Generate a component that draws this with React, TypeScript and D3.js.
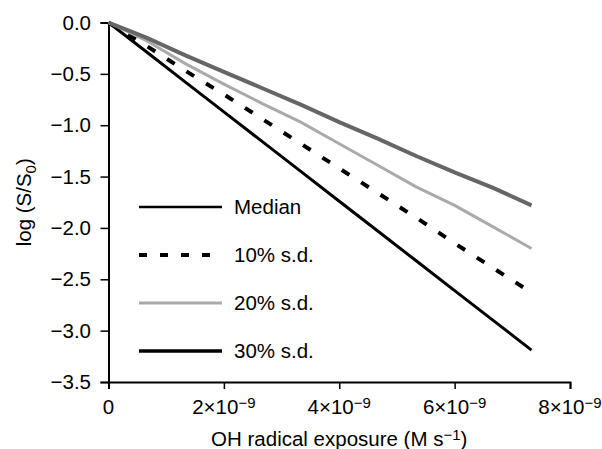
import React, { useRef, useEffect, useCallback } from 'react'
import * as d3 from 'd3'

// OH exposure (M s^-1) at each model step
const exposure = [0, 0.667e-9, 1.333e-9, 2.0e-9, 2.667e-9, 3.333e-9, 4.0e-9, 4.667e-9, 5.333e-9, 6.0e-9, 6.667e-9, 7.333e-9]

// log(S/S0) for each case
const median = [0, -0.15, -0.32, -0.48, -0.64, -0.80, -0.97, -1.13, -1.30, -1.46, -1.61, -1.78]
const sd10 = [0, -0.23, -0.47, -0.70, -0.94, -1.18, -1.42, -1.66, -1.90, -2.15, -2.39, -2.63]
const sd20 = [0, -0.18, -0.40, -0.60, -0.79, -0.97, -1.18, -1.39, -1.60, -1.78, -1.99, -2.20]
const sd30 = [0, -0.29, -0.58, -0.87, -1.16, -1.45, -1.74, -2.03, -2.32, -2.61, -2.90, -3.19]

const legendLabels = ['Median', '10% s.d.', '20% s.d.', '30% s.d.']
const xTicks = [0, 2e-9, 4e-9, 6e-9, 8e-9]
const yTicks = [0, -0.5, -1.0, -1.5, -2.0, -2.5, -3.0, -3.5]

const FONT = '"Liberation Sans", Arial, Helvetica, sans-serif'
const FS = 20.5
const SUP = 15

const App = () => {
    const chartRef = useRef<HTMLDivElement>(null)

    const drawChart = useCallback(() => {
        if (!chartRef.current) return
        const width = 602
        const height = 449
        const margin = { left: 108.5, right: 32, top: 22.5, bottom: 67 }

        const svg = d3.select(chartRef.current)
            .append('svg')
            .attr('width', width)
            .attr('height', height)
            .style('display', 'block')
            .style('font-family', FONT)

        const x = d3.scaleLinear()
            .domain([0, 8e-9])
            .range([margin.left, width - margin.right])
        const y = d3.scaleLinear()
            .domain([-3.5, 0])
            .range([height - margin.bottom, margin.top])

        // x axis
        const xAxis = svg.append('g')
            .attr('transform', `translate(0, ${y(-3.5)})`)
            .call(d3.axisBottom(x).tickValues(xTicks).tickSize(7).tickFormat(() => ''))
        xAxis.select('.domain').attr('stroke', '#000').attr('stroke-width', 2)
        xAxis.selectAll('.tick line').attr('stroke', '#000').attr('stroke-width', 1.5)

        xTicks.forEach(t => {
            const txt = svg.append('text')
                .attr('x', x(t))
                .attr('y', 414)
                .attr('text-anchor', 'middle')
                .attr('font-size', FS)
                .attr('fill', '#000')
            if (t === 0) {
                txt.text('0')
            } else {
                const m = Math.round(t / 1e-9)
                txt.append('tspan').text(`${m}\u00d710`)
                txt.append('tspan').attr('dy', -6).attr('font-size', SUP).text('\u22129')
            }
        })

        // y axis
        const yAxis = svg.append('g')
            .attr('transform', `translate(${x(0)}, 0)`)
            .call(d3.axisLeft(y).tickValues(yTicks).tickSize(8).tickFormat(() => ''))
        yAxis.select('.domain').attr('stroke', '#000').attr('stroke-width', 2)
        yAxis.selectAll('.tick line').attr('stroke', '#000').attr('stroke-width', 1.5)

        yTicks.forEach(t => {
            svg.append('text')
                .attr('x', 91)
                .attr('y', y(t))
                .attr('dy', '0.35em')
                .attr('text-anchor', 'end')
                .attr('font-size', FS)
                .attr('fill', '#000')
                .text(d3.format('.1f')(t).replace('-', '\u2212'))
        })

        // axis titles
        const xt = svg.append('text')
            .attr('x', (x(0) + x(8e-9)) / 2)
            .attr('y', 446)
            .attr('text-anchor', 'middle')
            .attr('font-size', FS)
        xt.append('tspan').text('OH radical exposure (M s')
        xt.append('tspan').attr('dy', -6).attr('font-size', SUP).text('\u22121')
        xt.append('tspan').attr('dy', 6).text(')')

        const yt = svg.append('text')
            .attr('transform', `translate(31, ${(y(0) + y(-3.5)) / 2}) rotate(-90)`)
            .attr('text-anchor', 'middle')
            .attr('font-size', FS)
        yt.append('tspan').text('log (S/S')
        yt.append('tspan').attr('dy', 5).attr('font-size', SUP).text('0')
        yt.append('tspan').attr('dy', -5).text(')')

        // series
        const series = [
            { values: sd30, color: '#000', width: 3, dash: null },
            { values: sd10, color: '#000', width: 4, dash: '9,14' },
            { values: sd20, color: '#aaa', width: 3, dash: null },
            { values: median, color: '#666', width: 4, dash: null },
        ]

        const line = d3.line<number>()
            .x((d, i) => x(exposure[i]))
            .y(d => y(d))

        series.forEach(s => {
            svg.append('path')
                .datum(s.values)
                .attr('fill', 'none')
                .attr('stroke', s.color)
                .attr('stroke-width', s.width)
                .attr('stroke-dasharray', s.dash)
                .attr('d', line)
        })

        // legend
        const legendStyles = [
            { color: '#000', width: 2.5, dash: null },
            { color: '#000', width: 4, dash: '8,13' },
            { color: '#aaa', width: 3, dash: null },
            { color: '#000', width: 3.5, dash: null },
        ]
        const legendY = [207, 255, 303, 351]

        legendLabels.forEach((label, i) => {
            const st = legendStyles[i]
            svg.append('line')
                .attr('x1', 139)
                .attr('x2', 222)
                .attr('y1', legendY[i])
                .attr('y2', legendY[i])
                .attr('stroke', st.color)
                .attr('stroke-width', st.width)
                .attr('stroke-dasharray', st.dash)
            svg.append('text')
                .attr('x', 234)
                .attr('y', legendY[i])
                .attr('dy', '0.35em')
                .attr('font-size', FS)
                .attr('fill', '#000')
                .text(label)
        })
    }, [])

    const destroyChart = useCallback(() => {
        if (chartRef.current) {
            d3.select(chartRef.current).select('svg').remove()
        }
    }, [])

    useEffect(() => {
        drawChart()
        return () => destroyChart()
    }, [drawChart, destroyChart])

    return (
        <div ref={chartRef} style={{ position: 'absolute', left: 0, top: 0, width: 602, height: 449, background: '#fff' }}></div>
    )
}

export default App
